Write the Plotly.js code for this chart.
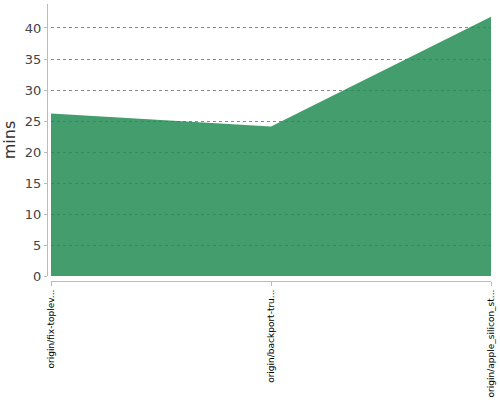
<!DOCTYPE html>
<html><head><meta charset="utf-8">
<script src="https://cdn.plot.ly/plotly-3.0.1.min.js"></script>
<style>html,body{margin:0;padding:0;background:#fff}</style>
</head><body><div id="chart" style="width:500px;height:400px"></div>
<script>
var categories = ["origin/fix-toplev...", "origin/backport-tru...", "origin/apple_silicon_st..."];
var minsValues = [26.2, 24.1, 41.8];
var yTicks = [0, 5, 10, 15, 20, 25, 30, 35, 40];

var trace = {
  x: [0, 1, 2],
  y: minsValues,
  type: 'scatter',
  mode: 'lines',
  fill: 'tozeroy',
  fillcolor: 'rgba(35,140,82,0.85)',
  line: {width: 0, color: 'rgba(35,140,82,0.85)'},
  hoverinfo: 'none'
};

var layout = {
  width: 500, height: 400,
  margin: {l: 47, r: 9, t: 4, b: 119, pad: 0},
  paper_bgcolor: '#fff', plot_bgcolor: '#fff',
  showlegend: false,
  font: {family: 'DejaVu Sans, sans-serif'},
  xaxis: {
    domain: [4/444, 1],
    anchor: 'free', position: 0,
    range: [0, 2],
    tickmode: 'array', tickvals: [0, 1, 2], ticktext: categories,
    tickangle: -90,
    tickfont: {size: 9, color: '#000'},
    showgrid: false, zeroline: false,
    showline: true, linecolor: '#bbb', linewidth: 1,
    ticks: 'outside', ticklen: 4, tickcolor: '#bbb'
  },
  yaxis: {
    domain: [5/277, 1],
    anchor: 'free', position: 0,
    range: [0, 43.87],
    tickmode: 'array', tickvals: yTicks,
    tickfont: {size: 13, color: '#444'},
    title: {text: 'mins', font: {size: 16, color: '#333'}, standoff: 8},
    showgrid: true, gridcolor: '#888', griddash: 'dot', gridwidth: 1,
    zeroline: false,
    showline: true, linecolor: '#bbb', linewidth: 1,
    ticks: 'outside', ticklen: 3, tickcolor: '#bbb'
  }
};

Plotly.newPlot('chart', [trace], layout, {displayModeBar: false, staticPlot: true});
</script></body></html>
